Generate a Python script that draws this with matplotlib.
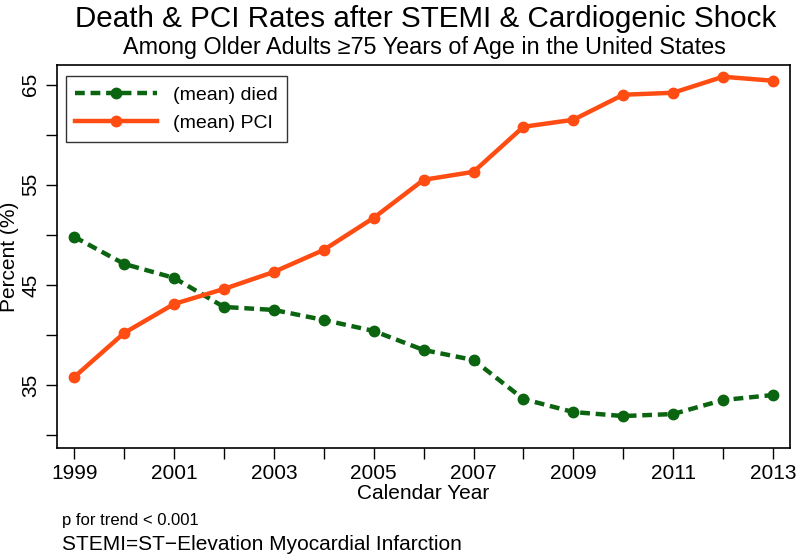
import matplotlib
matplotlib.use("Agg")
import matplotlib.pyplot as plt
from matplotlib import font_manager

names = {f.name for f in font_manager.fontManager.ttflist}
fam = "Liberation Sans Narrow" if "Liberation Sans Narrow" in names else "Liberation Sans"
plt.rcParams['font.family'] = [fam, 'DejaVu Sans']

years = [1999, 2000, 2001, 2002, 2003, 2004, 2005, 2006, 2007, 2008, 2009, 2010, 2011, 2012, 2013]
died = [49.8, 47.1, 45.7, 42.8, 42.5, 41.5, 40.4, 38.5, 37.5, 33.6, 32.3, 31.9, 32.1, 33.5, 34.0]
pci = [35.8, 40.2, 43.1, 44.6, 46.3, 48.5, 51.7, 55.5, 56.3, 60.8, 61.5, 64.0, 64.2, 65.8, 65.4]
xticks_major = [1999, 2001, 2003, 2005, 2007, 2009, 2011, 2013]
yticks_major = [35, 45, 55, 65]

fig = plt.figure(figsize=(8, 5.58), dpi=100)
ax = fig.add_axes([0.071, 0.197, 0.917, 0.687])

green = '#0b6410'
orange = '#ff4c12'
ax.plot(years, died, color=green, lw=3.2, ls=(0, (2.2, 1.3)), marker='o', ms=7.5,
        label='(mean) died', zorder=3)
ax.plot(years, pci, color=orange, lw=3.2, marker='o', ms=7.5, label='(mean) PCI', zorder=3)

ax.set_xlim(1998.65, 2013.35)
ax.set_ylim(28.7, 67.0)
ax.set_xticks(xticks_major)
ax.set_xticks(list(range(1999, 2014)), minor=True)
ax.set_yticks(yticks_major)
ax.set_yticks([30, 40, 50, 60], minor=True)
ax.tick_params(axis='both', which='both', direction='out', length=8, width=1, labelsize=15)
ax.tick_params(axis='y', which='major', pad=4)
for lab in ax.get_yticklabels():
    lab.set_rotation(90)
    lab.set_va('center')
for s in ax.spines.values():
    s.set_linewidth(1.2)

ax.set_xlabel('Calendar Year', fontsize=15, labelpad=1)
ax.set_ylabel('Percent (%)', fontsize=15, va='center')
ax.yaxis.set_label_coords(-0.064, 0.5)

leg = ax.legend(loc='upper left', fontsize=14, frameon=True, fancybox=False,
                edgecolor='black', handlelength=4.2, borderpad=0.5,
                bbox_to_anchor=(0.004, 0.985), borderaxespad=0.3, labelspacing=0.55)
leg.get_frame().set_linewidth(1.0)

fig.text(0.532, 0.966, 'Death & PCI Rates after STEMI & Cardiogenic Shock', ha='center', va='center',
         fontsize=21.3)
fig.text(0.53, 0.914, 'Among Older Adults \u226575 Years of Age in the United States', ha='center',
         va='center', fontsize=16.8)
fig.text(0.077, 0.068, 'p for trend < 0.001', ha='left', va='center', fontsize=12)
fig.text(0.077, 0.024, 'STEMI=ST\u2212Elevation Myocardial Infarction', ha='left', va='center', fontsize=15)

fig.savefig('out.png', dpi=100)
